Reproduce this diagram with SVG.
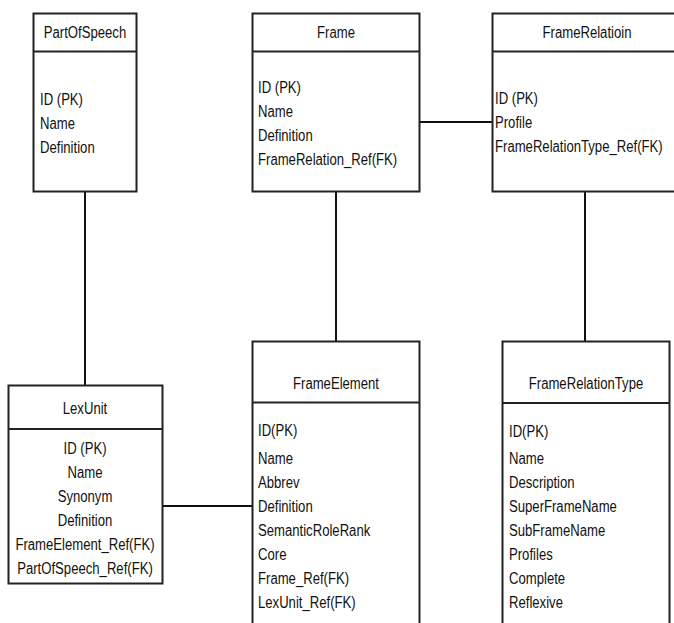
<svg xmlns="http://www.w3.org/2000/svg" width="674" height="623" viewBox="0 0 674 623">
<style>
.box{fill:#fff;stroke:#222;stroke-width:2}
.div{stroke:#222;stroke-width:2}
.con{stroke:#111;stroke-width:2;fill:none}
text{font-family:"Liberation Sans",Arial,sans-serif;font-size:16px;fill:#111}
.t,.c{text-anchor:middle}
</style>
<rect width="674" height="623" fill="#fff"/>
<g id="connectors">
<line class="con" x1="85" y1="192" x2="85" y2="386"/>
<line class="con" x1="336" y1="192" x2="336" y2="342"/>
<line class="con" x1="585" y1="192" x2="585" y2="342"/>
<line class="con" x1="419" y1="122" x2="492" y2="122"/>
<line class="con" x1="162" y1="506" x2="252" y2="506"/>
</g>
<g id="PartOfSpeech">
<rect class="box" x="33.5" y="13.5" width="103" height="178"/>
<line class="div" x1="33.5" y1="51.5" x2="136.5" y2="51.5"/>
<text class="t" transform="translate(85 38) scale(.82 1)">PartOfSpeech</text>
<text transform="translate(40 105) scale(.82 1)">ID (PK)</text>
<text transform="translate(40 129) scale(.82 1)">Name</text>
<text transform="translate(40 153) scale(.82 1)">Definition</text>
</g>
<g id="Frame">
<rect class="box" x="252.5" y="13.5" width="167" height="178"/>
<line class="div" x1="252.5" y1="51.5" x2="419.5" y2="51.5"/>
<text class="t" transform="translate(336 38) scale(.82 1)">Frame</text>
<text transform="translate(258 93) scale(.82 1)">ID (PK)</text>
<text transform="translate(258 117) scale(.82 1)">Name</text>
<text transform="translate(258 141) scale(.82 1)">Definition</text>
<text transform="translate(258 165) scale(.82 1)">FrameRelation_Ref(FK)</text>
</g>
<g id="FrameRelatioin">
<rect class="box" x="492.5" y="13.5" width="190" height="178"/>
<line class="div" x1="492.5" y1="51.5" x2="682.5" y2="51.5"/>
<text class="t" transform="translate(587 38) scale(.82 1)">FrameRelatioin</text>
<text transform="translate(495 104) scale(.82 1)">ID (PK)</text>
<text transform="translate(495 128) scale(.82 1)">Profile</text>
<text transform="translate(495 152) scale(.82 1)">FrameRelationType_Ref(FK)</text>
</g>
<g id="LexUnit">
<rect class="box" x="8.5" y="385.5" width="154" height="198"/>
<line class="div" x1="8.5" y1="429" x2="162.5" y2="429"/>
<text class="c" transform="translate(85 414) scale(.82 1)">LexUnit</text>
<text class="c" transform="translate(85 454) scale(.82 1)">ID (PK)</text>
<text class="c" transform="translate(85 478) scale(.82 1)">Name</text>
<text class="c" transform="translate(85 502) scale(.82 1)">Synonym</text>
<text class="c" transform="translate(85 526) scale(.82 1)">Definition</text>
<text class="c" transform="translate(85 550) scale(.82 1)">FrameElement_Ref(FK)</text>
<text class="c" transform="translate(85 574) scale(.82 1)">PartOfSpeech_Ref(FK)</text>
</g>
<g id="FrameElement">
<rect class="box" x="252.5" y="341.5" width="167" height="300"/>
<line class="div" x1="252.5" y1="402.5" x2="419.5" y2="402.5"/>
<text class="t" transform="translate(336 389) scale(.82 1)">FrameElement</text>
<text transform="translate(258 436) scale(.82 1)">ID(PK)</text>
<text transform="translate(258 464) scale(.82 1)">Name</text>
<text transform="translate(258 488) scale(.82 1)">Abbrev</text>
<text transform="translate(258 512) scale(.82 1)">Definition</text>
<text transform="translate(258 536) scale(.82 1)">SemanticRoleRank</text>
<text transform="translate(258 560) scale(.82 1)">Core</text>
<text transform="translate(258 584) scale(.82 1)">Frame_Ref(FK)</text>
<text transform="translate(258 608) scale(.82 1)">LexUnit_Ref(FK)</text>
</g>
<g id="FrameRelationType">
<rect class="box" x="502.5" y="341.5" width="167" height="300"/>
<line class="div" x1="502.5" y1="403" x2="669.5" y2="403"/>
<text class="t" transform="translate(586 389) scale(.82 1)">FrameRelationType</text>
<text transform="translate(509 437) scale(.82 1)">ID(PK)</text>
<text transform="translate(509 464) scale(.82 1)">Name</text>
<text transform="translate(509 488) scale(.82 1)">Description</text>
<text transform="translate(509 512) scale(.82 1)">SuperFrameName</text>
<text transform="translate(509 536) scale(.82 1)">SubFrameName</text>
<text transform="translate(509 560) scale(.82 1)">Profiles</text>
<text transform="translate(509 584) scale(.82 1)">Complete</text>
<text transform="translate(509 608) scale(.82 1)">Reflexive</text>
</g>
</svg>
